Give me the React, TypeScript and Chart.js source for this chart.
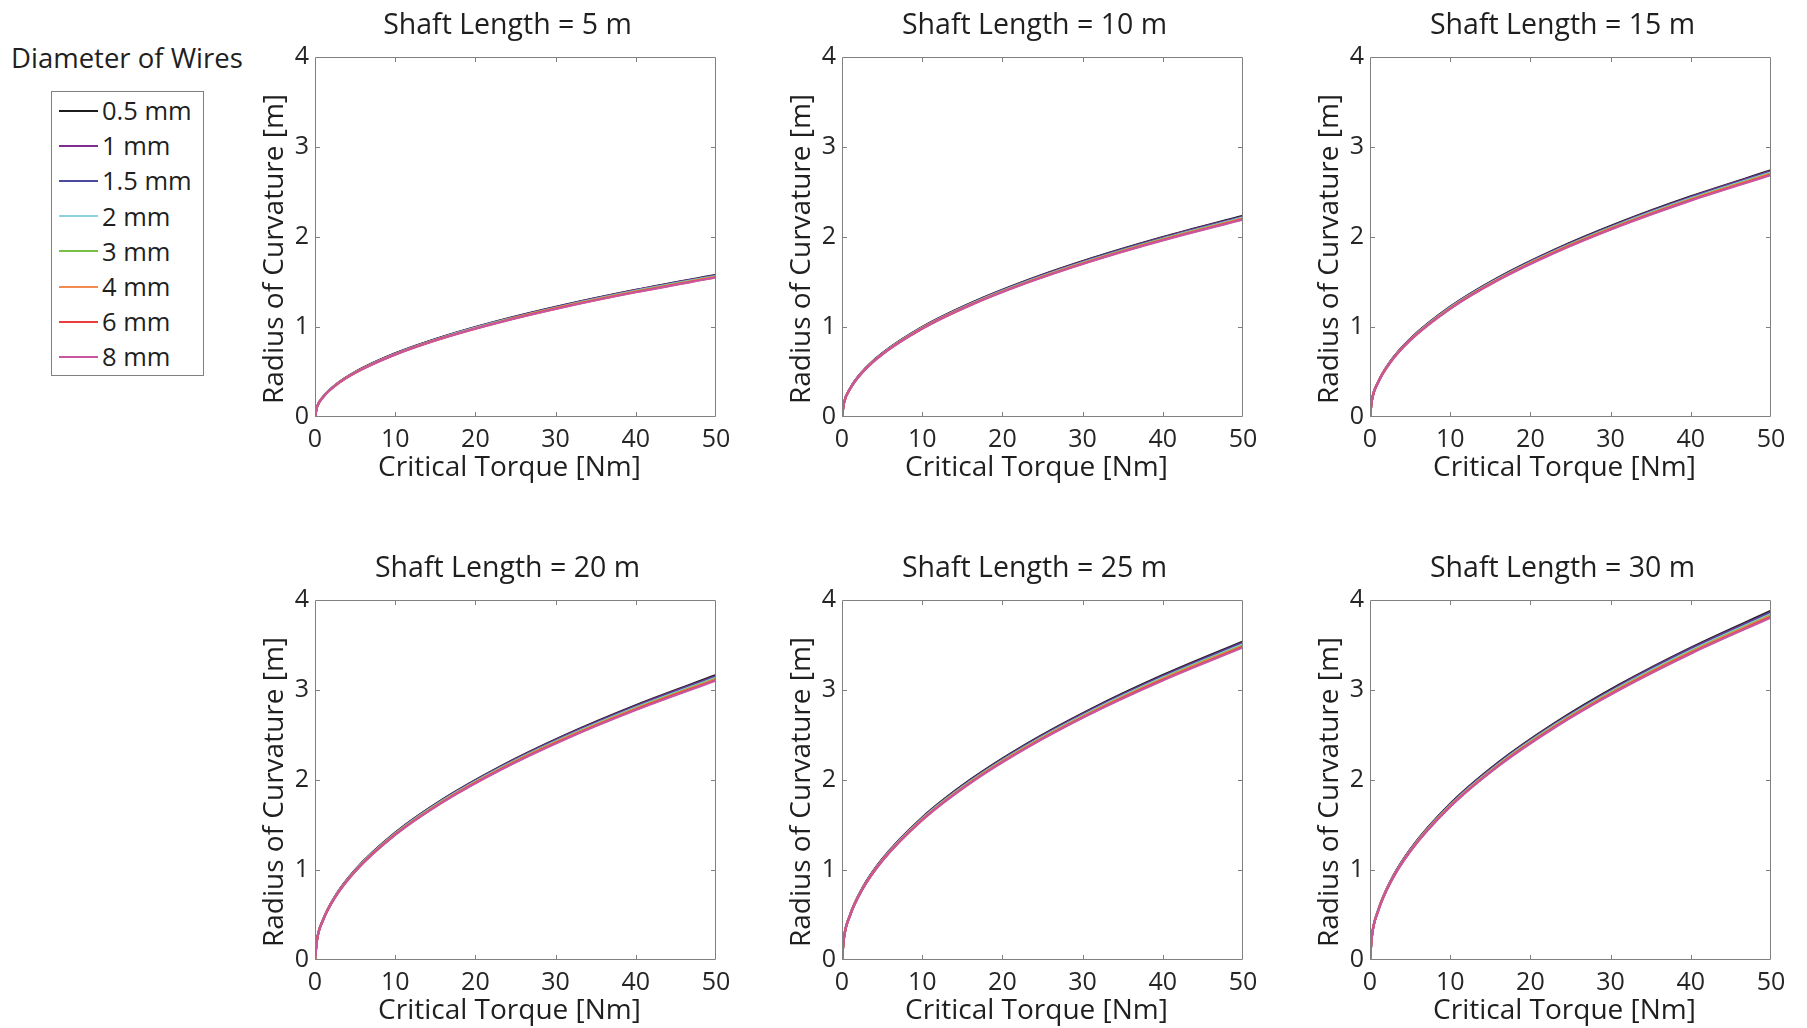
import React, { useEffect, useRef } from 'react';
import { Chart, registerables } from 'chart.js';

Chart.register(...registerables);

// Critical torque samples [Nm] shared by every curve
const torque = [0, 0.25, 1, 2.5, 5, 10, 16, 23, 31, 40, 50];

// Shaft lengths [m], one panel each
const shaftLengths = [5, 10, 15, 20, 25, 30];

// Wire diameters and their line colours
const wireLabels = ['0.5 mm', '1 mm', '1.5 mm', '2 mm', '3 mm', '4 mm', '6 mm', '8 mm'];
const wireColors = ['#1c1c1c', '#7e2f8e', '#4b4b9e', '#8dd0e0', '#79bf45', '#f28b4f', '#ee3b3b', '#c8579f'];

// Radius of curvature [m]; one row per wire diameter, one column per torque sample
const radius5m = [
  [0, 0.112, 0.223, 0.353, 0.500, 0.707, 0.894, 1.072, 1.244, 1.413, 1.580],
  [0, 0.111, 0.223, 0.352, 0.498, 0.704, 0.891, 1.068, 1.240, 1.409, 1.575],
  [0, 0.111, 0.222, 0.351, 0.496, 0.702, 0.888, 1.065, 1.236, 1.404, 1.570],
  [0, 0.111, 0.221, 0.350, 0.495, 0.700, 0.886, 1.062, 1.233, 1.401, 1.566],
  [0, 0.110, 0.221, 0.349, 0.494, 0.698, 0.883, 1.059, 1.229, 1.396, 1.561],
  [0, 0.110, 0.220, 0.348, 0.492, 0.696, 0.881, 1.056, 1.226, 1.393, 1.557],
  [0, 0.110, 0.220, 0.347, 0.491, 0.694, 0.879, 1.053, 1.223, 1.389, 1.553],
  [0, 0.110, 0.219, 0.347, 0.490, 0.693, 0.877, 1.051, 1.220, 1.386, 1.550],
];

const radius10m = [
  [0, 0.158, 0.316, 0.500, 0.707, 1.000, 1.264, 1.516, 1.760, 1.999, 2.235],
  [0, 0.158, 0.315, 0.498, 0.705, 0.996, 1.260, 1.511, 1.754, 1.993, 2.228],
  [0, 0.157, 0.314, 0.497, 0.703, 0.994, 1.257, 1.507, 1.750, 1.987, 2.222],
  [0, 0.157, 0.313, 0.495, 0.700, 0.991, 1.253, 1.502, 1.744, 1.981, 2.215],
  [0, 0.156, 0.312, 0.494, 0.698, 0.988, 1.250, 1.498, 1.739, 1.976, 2.209],
  [0, 0.156, 0.312, 0.493, 0.697, 0.986, 1.247, 1.495, 1.735, 1.971, 2.204],
  [0, 0.155, 0.311, 0.491, 0.695, 0.983, 1.243, 1.491, 1.731, 1.966, 2.198],
  [0, 0.155, 0.310, 0.491, 0.694, 0.981, 1.241, 1.488, 1.728, 1.962, 2.194],
];

const radius15m = [
  [0, 0.194, 0.387, 0.613, 0.866, 1.225, 1.550, 1.858, 2.157, 2.451, 2.740],
  [0, 0.193, 0.386, 0.611, 0.864, 1.222, 1.545, 1.853, 2.151, 2.443, 2.732],
  [0, 0.193, 0.385, 0.609, 0.861, 1.218, 1.541, 1.847, 2.145, 2.436, 2.724],
  [0, 0.192, 0.384, 0.607, 0.859, 1.215, 1.536, 1.842, 2.139, 2.429, 2.716],
  [0, 0.191, 0.383, 0.606, 0.856, 1.211, 1.532, 1.837, 2.132, 2.422, 2.708],
  [0, 0.191, 0.382, 0.604, 0.854, 1.208, 1.528, 1.832, 2.127, 2.416, 2.701],
  [0, 0.190, 0.381, 0.602, 0.852, 1.205, 1.524, 1.827, 2.121, 2.410, 2.694],
  [0, 0.190, 0.380, 0.601, 0.850, 1.202, 1.521, 1.823, 2.117, 2.404, 2.688],
];

const radius20m = [
  [0, 0.224, 0.448, 0.708, 1.001, 1.415, 1.790, 2.146, 2.492, 2.831, 3.165],
  [0, 0.223, 0.446, 0.706, 0.998, 1.411, 1.785, 2.140, 2.485, 2.823, 3.156],
  [0, 0.222, 0.445, 0.703, 0.995, 1.407, 1.780, 2.134, 2.477, 2.814, 3.146],
  [0, 0.222, 0.444, 0.701, 0.992, 1.403, 1.775, 2.128, 2.470, 2.806, 3.137],
  [0, 0.221, 0.442, 0.699, 0.989, 1.399, 1.770, 2.121, 2.463, 2.798, 3.128],
  [0, 0.221, 0.441, 0.698, 0.987, 1.395, 1.765, 2.116, 2.457, 2.791, 3.120],
  [0, 0.220, 0.440, 0.696, 0.984, 1.392, 1.760, 2.111, 2.450, 2.783, 3.112],
  [0, 0.220, 0.439, 0.694, 0.982, 1.389, 1.757, 2.106, 2.445, 2.777, 3.105],
];

const radius25m = [
  [0, 0.250, 0.501, 0.792, 1.119, 1.583, 2.003, 2.401, 2.787, 3.166, 3.540],
  [0, 0.250, 0.499, 0.789, 1.116, 1.578, 1.996, 2.393, 2.779, 3.156, 3.529],
  [0, 0.249, 0.498, 0.787, 1.113, 1.574, 1.991, 2.387, 2.771, 3.147, 3.519],
  [0, 0.248, 0.496, 0.784, 1.109, 1.569, 1.984, 2.379, 2.762, 3.138, 3.508],
  [0, 0.247, 0.495, 0.782, 1.106, 1.564, 1.979, 2.372, 2.754, 3.129, 3.498],
  [0, 0.247, 0.493, 0.780, 1.103, 1.560, 1.974, 2.366, 2.747, 3.121, 3.489],
  [0, 0.246, 0.492, 0.778, 1.100, 1.556, 1.969, 2.360, 2.740, 3.113, 3.480],
  [0, 0.246, 0.491, 0.777, 1.098, 1.553, 1.965, 2.355, 2.735, 3.106, 3.473],
];

const radius30m = [
  [0, 0.274, 0.549, 0.868, 1.227, 1.735, 2.195, 2.631, 3.055, 3.470, 3.880],
  [0, 0.273, 0.547, 0.865, 1.223, 1.730, 2.188, 2.623, 3.046, 3.460, 3.868],
  [0, 0.273, 0.545, 0.862, 1.220, 1.725, 2.182, 2.616, 3.037, 3.450, 3.857],
  [0, 0.272, 0.544, 0.860, 1.216, 1.719, 2.175, 2.608, 3.028, 3.439, 3.845],
  [0, 0.271, 0.542, 0.857, 1.212, 1.715, 2.169, 2.600, 3.019, 3.429, 3.834],
  [0, 0.270, 0.541, 0.855, 1.209, 1.710, 2.163, 2.593, 3.011, 3.420, 3.824],
  [0, 0.270, 0.539, 0.853, 1.206, 1.706, 2.158, 2.587, 3.003, 3.411, 3.814],
  [0, 0.269, 0.538, 0.851, 1.203, 1.702, 2.153, 2.581, 2.997, 3.404, 3.806],
];

const radiusByLength = [radius5m, radius10m, radius15m, radius20m, radius25m, radius30m];

// Axis ranges
const torqueMin = 0;
const torqueMax = 50;
const torqueStep = 10;
const radiusMin = 0;
const radiusMax = 4;
const radiusStep = 1;

const FONT = "'Open Sans', sans-serif";
const TEXT = '#1f1f1f';
const FRAME = '#808080';

// Layout of the 2 x 3 grid of plot areas
const plotLefts = [315, 842, 1370];
const plotTops = [57, 600];
const plotW = 401;
const plotH = 360;
const padLeft = 110;
const padTop = 57;
const padRight = 30;
const padBottom = 68;

// Draws the boxed frame with inward ticks and the panel texts
const panelFrame = {
  id: 'panelFrame',
  afterDraw(chart: any, _args: any, opts: any) {
    const { ctx, chartArea } = chart;
    const { left, right, top, bottom } = chartArea;
    const xs = chart.scales.x;
    const ys = chart.scales.y;
    const tick = 5;
    ctx.save();
    ctx.strokeStyle = FRAME;
    ctx.lineWidth = 1;
    ctx.beginPath();
    ctx.rect(left + 0.5, top + 0.5, right - left - 1, bottom - top - 1);
    xs.ticks.forEach((t: any) => {
      if (t.value <= xs.min || t.value >= xs.max) return;
      const px = Math.round(xs.getPixelForValue(t.value)) + 0.5;
      ctx.moveTo(px, bottom);
      ctx.lineTo(px, bottom - tick);
      ctx.moveTo(px, top);
      ctx.lineTo(px, top + tick);
    });
    ys.ticks.forEach((t: any) => {
      if (t.value <= ys.min || t.value >= ys.max) return;
      const py = Math.round(ys.getPixelForValue(t.value)) + 0.5;
      ctx.moveTo(left, py);
      ctx.lineTo(left + tick, py);
      ctx.moveTo(right, py);
      ctx.lineTo(right - tick, py);
    });
    ctx.stroke();

    const cx = (left + right) / 2;
    const cy = (top + bottom) / 2;
    ctx.fillStyle = TEXT;
    ctx.textAlign = 'center';
    ctx.textBaseline = 'alphabetic';
    ctx.font = `28.5px ${FONT}`;
    ctx.fillText(opts.title, cx - 8, top - 23);
    ctx.font = `28px ${FONT}`;
    ctx.fillText(opts.xTitle, cx - 6, bottom + 59);
    ctx.translate(left - 32, cy + 12);
    ctx.rotate(-Math.PI / 2);
    ctx.fillText(opts.yTitle, 0, 0);
    ctx.restore();
  },
};

function Panel({ index }: { index: number }) {
  const ref = useRef<HTMLCanvasElement | null>(null);
  const col = index % 3;
  const row = Math.floor(index / 3);
  const width = padLeft + plotW + padRight;
  const height = padTop + plotH + padBottom;

  useEffect(() => {
    if (!ref.current) return;
    const rows = radiusByLength[index];
    const chart = new Chart(ref.current, {
      type: 'line',
      data: {
        // later diameters are painted over earlier ones
        datasets: wireLabels.map((label, i) => ({
          label,
          data: torque.map((t, k) => ({ x: t, y: rows[i][k] })),
          borderColor: wireColors[i],
          backgroundColor: wireColors[i],
          borderWidth: 2.2,
          pointRadius: 0,
          fill: false,
          order: wireLabels.length - i,
          cubicInterpolationMode: 'monotone' as const,
        })),
      },
      options: {
        responsive: false,
        animation: false,
        events: [],
        layout: { padding: { top: padTop, right: padRight, left: 0, bottom: 0 } },
        plugins: {
          legend: { display: false },
          tooltip: { enabled: false },
          title: { display: false },
          panelFrame: {
            title: `Shaft Length = ${shaftLengths[index]} m`,
            xTitle: 'Critical Torque [Nm]',
            yTitle: 'Radius of Curvature [m]',
          },
        } as any,
        scales: {
          x: {
            type: 'linear',
            min: torqueMin,
            max: torqueMax,
            grid: { display: false, drawTicks: false, tickLength: 0 },
            border: { display: false },
            ticks: {
              stepSize: torqueStep,
              padding: 8,
              maxRotation: 0,
              autoSkip: false,
              color: '#262626',
              font: { family: FONT, size: 25 },
            },
            afterFit: (s: any) => {
              s.height = padBottom;
            },
          },
          y: {
            type: 'linear',
            min: radiusMin,
            max: radiusMax,
            grid: { display: false, drawTicks: false, tickLength: 0 },
            border: { display: false },
            ticks: {
              stepSize: radiusStep,
              padding: 6,
              color: '#262626',
              font: { family: FONT, size: 25 },
            },
            afterFit: (s: any) => {
              s.width = padLeft;
            },
          },
        },
      },
      plugins: [panelFrame],
    });
    return () => chart.destroy();
  }, [index]);

  return (
    <canvas
      ref={ref}
      width={width}
      height={height}
      style={{
        position: 'absolute',
        left: plotLefts[col] - padLeft,
        top: plotTops[row] - padTop,
        width,
        height,
      }}
    />
  );
}

function WireLegend() {
  const lineY0 = 110.5;
  const step = 35.2;
  return (
    <>
      <div
        style={{
          position: 'absolute',
          left: 11,
          top: 44,
          font: `27.5px ${FONT}`,
          lineHeight: '27px',
          color: TEXT,
          whiteSpace: 'nowrap',
        }}
      >
        Diameter of Wires
      </div>
      <div
        style={{
          position: 'absolute',
          left: 51,
          top: 91,
          width: 153,
          height: 285,
          boxSizing: 'border-box',
          border: `1px solid ${FRAME}`,
          background: '#fff',
        }}
      />
      {wireLabels.map((label, i) => {
        const y = lineY0 + step * i;
        return (
          <React.Fragment key={label}>
            <div
              style={{
                position: 'absolute',
                left: 59,
                top: y - 1,
                width: 39,
                height: 2,
                background: wireColors[i],
              }}
            />
            <div
              style={{
                position: 'absolute',
                left: 102,
                top: y - 17.5,
                font: `25.5px ${FONT}`,
                lineHeight: '34px',
                height: 34,
                color: TEXT,
                whiteSpace: 'nowrap',
              }}
            >
              {label}
            </div>
          </React.Fragment>
        );
      })}
    </>
  );
}

export default function App() {
  return (
    <div
      style={{
        position: 'fixed',
        left: 0,
        top: 0,
        width: 1807,
        height: 1028,
        background: '#ffffff',
        overflow: 'hidden',
      }}
    >
      <WireLegend />
      {shaftLengths.map((_, i) => (
        <Panel key={i} index={i} />
      ))}
    </div>
  );
}
